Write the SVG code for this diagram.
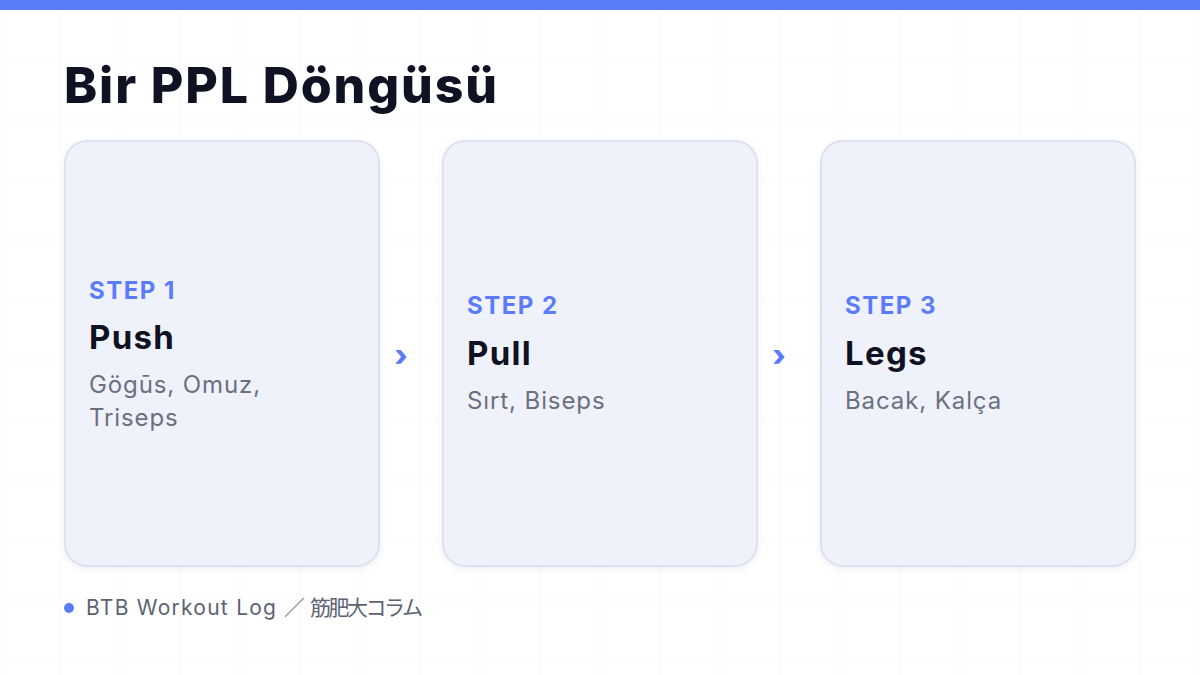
<svg xmlns="http://www.w3.org/2000/svg" width="1200" height="675" viewBox="0 0 1200 675">
<defs>
<pattern id="grid" width="60" height="60" patternUnits="userSpaceOnUse">
<path d="M60 0V60M0 60H60" fill="none" stroke="#f1f2f5" stroke-width="1"/>
</pattern>
<filter id="sh" x="-10%" y="-10%" width="120%" height="120%">
<feDropShadow dx="0" dy="2" stdDeviation="3" flood-color="#1e2a5a" flood-opacity="0.06"/>
</filter>
</defs>
<style>
.card{fill:#f0f2fb;stroke:#dde2f0;stroke-width:2}
.step{font-family:Inter,"Liberation Sans",sans-serif;font-weight:700;font-size:24px;fill:#5b7cfa;letter-spacing:1.5px}
.name{font-family:Inter,"Liberation Sans",sans-serif;font-weight:700;font-size:33px;fill:#0f1222;letter-spacing:1.3px}
.desc{font-family:Inter,"Liberation Sans",sans-serif;font-size:24px;fill:#6b7080;letter-spacing:0.9px}
.chev{font-family:Inter,"Liberation Sans",sans-serif;font-weight:800;font-size:30px;fill:#5b7cfa}
</style>
<rect width="1200" height="675" fill="#ffffff"/>
<rect width="1200" height="675" fill="url(#grid)" transform="translate(0.5 0.5)"/>
<rect width="1200" height="10" fill="#5b7cfa"/>
<text x="64" y="103" font-family="Inter,'Liberation Sans',sans-serif" font-weight="800" font-size="50" fill="#0f1222" textLength="433" lengthAdjust="spacing">Bir PPL Döngüsü</text>
<g id="connectors">
<text class="chev" x="401" y="366" text-anchor="middle">›</text>
<text class="chev" x="779" y="366" text-anchor="middle">›</text>
</g>
<g id="step1">
<rect class="card" x="65" y="141" width="314" height="425" rx="22" filter="url(#sh)"/>
<text class="step" x="89" y="299">STEP 1</text>
<text class="name" x="89" y="349">Push</text>
<text class="desc" x="89" y="393">Gögūs, Omuz,</text>
<text class="desc" x="89" y="426">Triseps</text>
</g>
<g id="step2">
<rect class="card" x="443" y="141" width="314" height="425" rx="22" filter="url(#sh)"/>
<text class="step" x="467" y="314">STEP 2</text>
<text class="name" x="467" y="365">Pull</text>
<text class="desc" x="467" y="409">Sırt, Biseps</text>
</g>
<g id="step3">
<rect class="card" x="821" y="141" width="314" height="425" rx="22" filter="url(#sh)"/>
<text class="step" x="845" y="314">STEP 3</text>
<text class="name" x="845" y="365">Legs</text>
<text class="desc" x="845" y="409">Bacak, Kalça</text>
</g>
<g id="footer">
<circle cx="69" cy="608" r="5" fill="#5b7cfa"/>
<text y="615" font-family="Inter,'Liberation Sans','Noto Sans CJK JP',sans-serif" font-size="21" fill="#5c6272"><tspan x="86" textLength="190" lengthAdjust="spacing">BTB Workout Log</tspan><tspan x="284">／</tspan><tspan x="310" textLength="113" lengthAdjust="spacing">筋肥大コラム</tspan></text>
</g>
</svg>
